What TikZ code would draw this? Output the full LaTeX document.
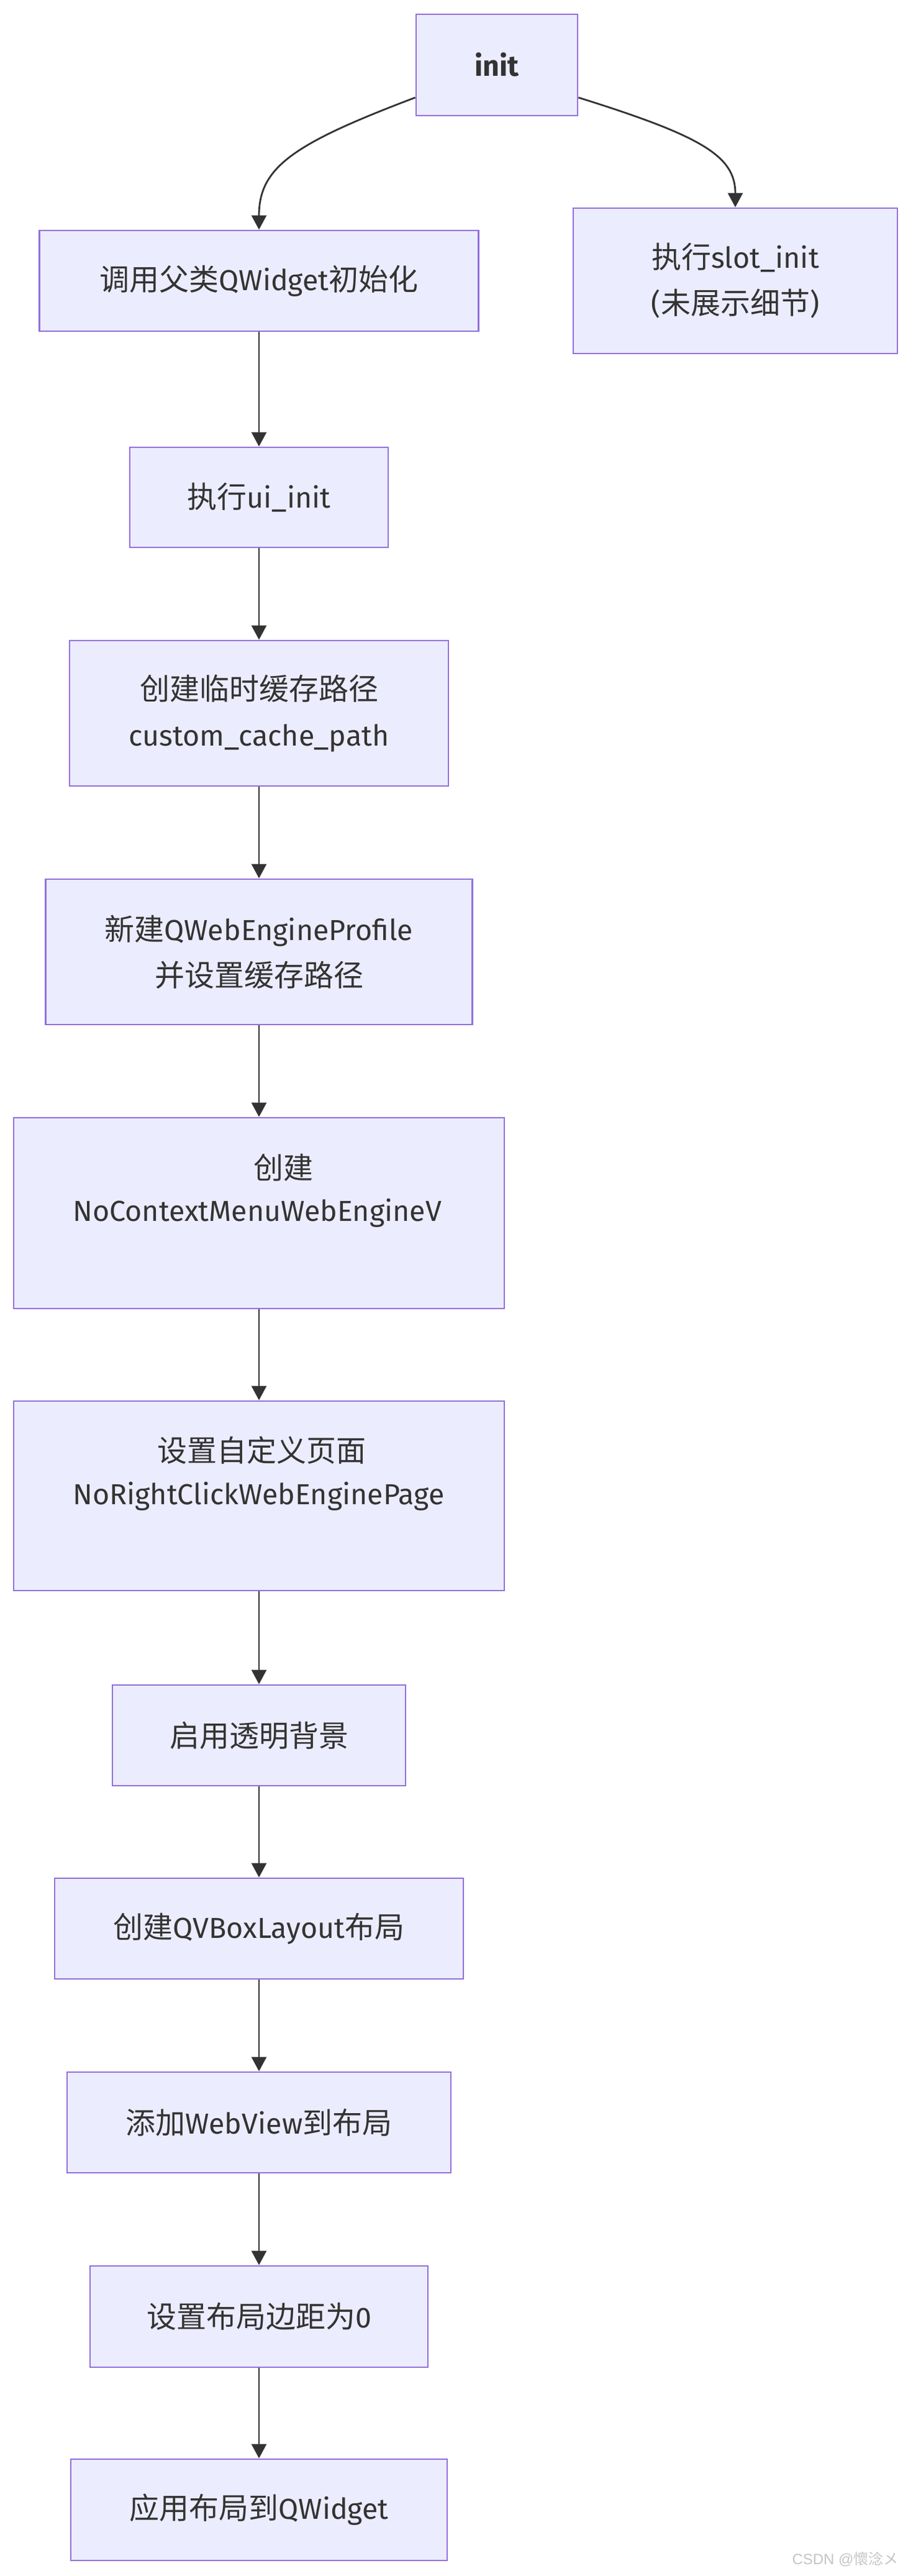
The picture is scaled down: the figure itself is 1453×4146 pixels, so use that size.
\documentclass[tikz,border=0pt]{standalone}
\usepackage{fontspec}
\setmainfont[Scale=0.97]{Fira Sans}
\newfontfamily\cjkfont{Noto Sans CJK SC}
\newfontfamily\wmfont{Liberation Sans}
\newcommand\zhtxt[1]{{\cjkfont #1}}
\usetikzlibrary{arrows.meta,calc}
\definecolor{boxfill}{HTML}{ECECFF}
\definecolor{boxline}{HTML}{9370DB}
\definecolor{edgecol}{HTML}{333333}
\definecolor{txtcol}{HTML}{333333}
\definecolor{wmcol}{HTML}{C4C4C4}
\begin{document}
\begin{tikzpicture}[x=0.5pt,y=-0.5pt,
  flowbox/.style={draw=boxline, fill=boxfill, line width=1.4pt, inner sep=0pt,
    text=txtcol, font=\fontsize{24}{37}\selectfont, align=center},
  flowtext/.style={text=txtcol, font=\fontsize{24}{37}\selectfont, inner sep=0pt},
  flowedge/.style={draw=edgecol, line width=1.4pt, -{Triangle[length=11.5pt,width=12pt]}},
]
\useasboundingbox (0,0) rectangle (1453,4146);

\node[flowbox, minimum width=130pt, minimum height=81.5pt, font=\fontsize{24}{37}\selectfont\bfseries] (init) at (800,104.5) {init};
\node[flowbox, minimum width=261pt, minimum height=117pt] (slot) at (1184,452) {\zhtxt{执行}slot\_init\\(\zhtxt{未展示细节})};
\node[flowbox, minimum width=353.5pt, minimum height=81pt] (parent) at (417,452) {\zhtxt{调用父类}QWidget\zhtxt{初始化}};
\node[flowbox, minimum width=208pt, minimum height=80.5pt] (ui) at (417,800.5) {\zhtxt{执行}ui\_init};
\node[flowbox, minimum width=305pt, minimum height=117pt] (cache) at (417,1148) {\zhtxt{创建临时缓存路径}\\custom\_cache\_path};
\node[flowbox, minimum width=343.5pt, minimum height=117pt] (profile) at (417,1532) {\zhtxt{新建}QWebEngineProfile\\\zhtxt{并设置缓存路径}};
\node[flowbox, minimum width=395pt, minimum height=153.5pt] (noctx) at (417,1952.5) {};
\node[flowbox, minimum width=395pt, minimum height=152.5pt] (noright) at (417,2407.5) {};
\node[flowbox, minimum width=236pt, minimum height=81pt] (transp) at (417,2793) {\zhtxt{启用透明背景}};
\node[flowbox, minimum width=329pt, minimum height=81pt] (vbox) at (417,3104) {\zhtxt{创建}QVBoxLayout\zhtxt{布局}};
\node[flowbox, minimum width=309pt, minimum height=81pt] (webview) at (417,3416) {\zhtxt{添加}WebView\zhtxt{到布局}};
\node[flowbox, minimum width=272pt, minimum height=81.5pt] (margin) at (417,3728.5) {\zhtxt{设置布局边距为}0};
\node[flowbox, minimum width=303pt, minimum height=81.5pt] (apply) at (417,4039.5) {\zhtxt{应用布局到}QWidget};

\node[flowtext] (noctxA) at (456,1879) {\zhtxt{创建}};
\node[flowtext] (norightA) at (421,2334) {\zhtxt{设置自定义页面}};
\begin{scope}
  \clip (0,0) rectangle (722,4146);
  \node[flowtext, anchor=west] (noctxB) at (117,1952) {NoContextMenuWebEngineV};
  \node[flowtext, anchor=west] (norightB) at (117,2408) {NoRightClickWebEnginePage};
\end{scope}

\draw[flowedge] ($(init.west)+(0,52.5)$) .. controls (470,232) and (417,270) .. (parent.north);
\draw[flowedge] ($(init.east)+(0,52.5)$) .. controls (1130,219) and (1184,251) .. (slot.north);
\draw[flowedge] (parent.south) -- (ui.north);
\draw[flowedge] (ui.south) -- (cache.north);
\draw[flowedge] (cache.south) -- (profile.north);
\draw[flowedge] (profile.south) -- (noctx.north);
\draw[flowedge] (noctx.south) -- (noright.north);
\draw[flowedge] (noright.south) -- (transp.north);
\draw[flowedge] (transp.south) -- (vbox.north);
\draw[flowedge] (vbox.south) -- (webview.north);
\draw[flowedge] (webview.south) -- (margin.north);
\draw[flowedge] (margin.south) -- (apply.north);

\node[anchor=east, inner sep=0pt, text=wmcol, font=\wmfont\fontsize{12}{14}\selectfont] (wm) at (1447,4119) {CSDN @\zhtxt{懷淰メ}};
\end{tikzpicture}
\end{document}
